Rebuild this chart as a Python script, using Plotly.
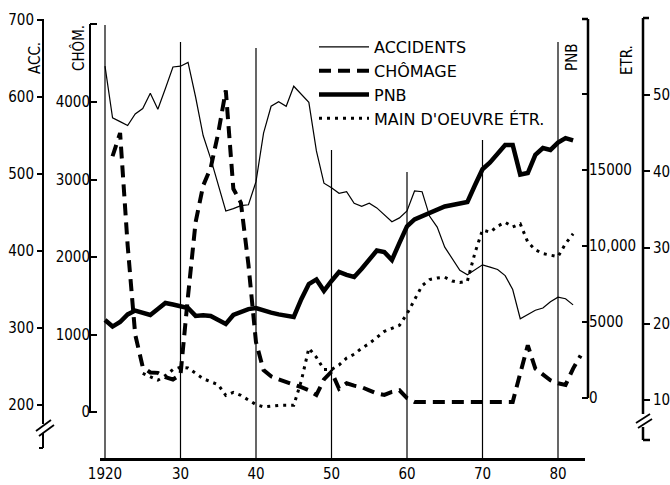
import plotly.graph_objects as go

# ---------------- data ----------------
acc_years = list(range(1920, 1983))
accidents = [640, 573, 568, 563, 578, 585, 605, 584, 611, 639,
             640, 645, 600, 550, 520, 485, 452, 455, 459, 460,
             490, 553, 588, 594, 588, 614, 604, 593, 530, 488,
             482, 475, 477, 462, 458, 462, 456, 447, 438, 443,
             452, 478, 477, 445, 431, 405, 390, 375, 369, 376,
             382, 379, 376, 368, 350, 312, 318, 323, 326, 334,
             340, 338, 330]

chom_years = list(range(1921, 1984))
chomage = [3300, 3600, 2150, 1000, 580, 510, 505, 450, 420, 480,
           1500, 2450, 2920, 3150, 3600, 4150, 2880, 2700, 1900, 900,
           540, 460, 420, 390, 350, 320, 280, 220, 420, 520,
           300, 370, 340, 320, 280, 240, 220, 260, 280, 180,
           130, 130, 130, 130, 130, 130, 130, 130, 130, 130,
           130, 130, 130, 130, 500, 860, 560, 480, 410, 370,
           350, 560, 730]

pnb_years = list(range(1920, 1983))
pnb = [5130, 4700, 5000, 5500, 5750, 5600, 5460, 5850, 6250, 6150,
       6050, 5920, 5400, 5450, 5400, 5150, 4870, 5460, 5650, 5850,
       5920, 5750, 5620, 5500, 5400, 5330, 6500, 7500, 7800, 7050,
       7700, 8290, 8100, 7960, 8500, 9100, 9700, 9600, 9080, 10200,
       11300, 11750, 11950, 12150, 12400, 12600, 12700, 12800, 12900, 14000,
       15050, 15500, 16100, 16650, 16650, 14700, 14800, 16000, 16450, 16320,
       16800, 17100, 16950]

etr_years = list(range(1925, 1983))
etranger = [13.5, 13.0, 12.6, 13.2, 14.0, 14.3, 14.2, 13.5, 12.8, 12.4,
            12.0, 10.6, 11.0, 10.6, 10.0, 9.4, 9.1, 9.2, 9.3, 9.3,
            9.3, 12.5, 16.8, 15.6, 14.0, 14.0, 14.6, 15.5, 16.0, 16.8,
            17.4, 18.2, 19.0, 19.4, 19.8, 21.3, 23.2, 25.0, 25.8, 26.0,
            26.1, 25.6, 25.4, 25.6, 29.3, 32.3, 32.0, 32.8, 33.3, 32.7,
            33.1, 30.7, 29.7, 29.2, 29.0, 28.8, 30.5, 31.8]

decades = [1920, 1930, 1940, 1950, 1960, 1970, 1980]
decade_labels = ["1920", "30", "40", "50", "60", "70", "80"]

acc_ticks = [200, 300, 400, 500, 600, 700]
chom_ticks = [0, 1000, 2000, 3000, 4000]
pnb_ticks = [0, 5000, 10000, 15000, 20000]
pnb_labels = ["0", "5000", "10,000", "15000", ""]
etr_ticks = [10, 20, 30, 40, 50]

# ---------------- layout helpers (pixel geometry) ----------------
W, H = 670, 485
TOP, BOT = 15, 458          # plot area in px
LEFT, RIGHT = 100, 585


def xp(px):
    return px / W


def yp(py):
    return 1 - py / H


def rng(va, pa, vb, pb):
    s = (pb - pa) / (vb - va)
    return [va + (BOT - pa) / s, va + (TOP - pa) / s]


x_range = [1920 + (LEFT - 105) / 7.55, 1920 + (RIGHT - 105) / 7.55]
ydom = [yp(BOT), yp(TOP)]

TICKFONT = dict(family="DejaVu Sans Condensed, DejaVu Sans, sans-serif", size=15, color="black")
INK = "black"

fig = go.Figure()
fig.add_trace(go.Scatter(x=acc_years, y=accidents, name="ACCIDENTS", mode="lines",
                         line=dict(color=INK, width=1.2), yaxis="y"))
fig.add_trace(go.Scatter(x=chom_years, y=chomage, name="CHÔMAGE", mode="lines",
                         line=dict(color=INK, width=4, dash="12px,7px"), yaxis="y2"))
fig.add_trace(go.Scatter(x=pnb_years, y=pnb, name="PNB", mode="lines",
                         line=dict(color=INK, width=4.5), yaxis="y3"))
fig.add_trace(go.Scatter(x=etr_years, y=etranger, name="MAIN D'OEUVRE ÉTR.", mode="lines",
                         line=dict(color=INK, width=3, dash="3px,5px"), yaxis="y4"))

common_y = dict(showgrid=False, zeroline=False, showline=False, automargin=False,
                tickfont=TICKFONT, ticklen=6, tickwidth=1.5, tickcolor=INK,
                anchor="free", tickmode="array", ticklabeloverflow="allow")

shapes = []
# decade rules
rule_tops = [25, 42, 48, 150, 172, 140, 42]
for d, t in zip(decades, rule_tops):
    shapes.append(dict(type="line", xref="x", yref="paper", x0=d, x1=d,
                       y0=yp(BOT), y1=yp(t), line=dict(color=INK, width=1.2)))


def seg(x0, y0, x1, y1, w=2):
    shapes.append(dict(type="line", xref="paper", yref="paper",
                       x0=xp(x0), y0=yp(y0), x1=xp(x1), y1=yp(y1),
                       line=dict(color=INK, width=w)))


# ACC axis line with break
seg(43, 19, 43, 424)
seg(36, 431, 51, 420, 1.8)
seg(39, 436, 54, 425, 1.8)
seg(43, 433, 43, 448)
seg(43, 448, 39, 448)
# CHÔM axis
seg(90, 24, 90, 413)
seg(90, 24, 97, 24)
# PNB axis
seg(588, 19, 588, 398, 2.5)
seg(588, 19, 582, 19, 2.5)
# ETR axis with break
seg(643, 18, 643, 414, 2.5)
seg(643, 18, 649, 18, 2.5)
seg(636, 423, 650, 414, 1.8)
seg(638, 428, 652, 419, 1.8)
seg(643, 427, 643, 440, 2.5)
seg(643, 440, 650, 440, 2.5)

TITLEFONT = dict(family="DejaVu Sans Condensed, DejaVu Sans, sans-serif", size=15, color="black")
annotations = [
    dict(text="ACC.", x=xp(35), y=yp(58), textangle=-90),
    dict(text="CHÔM.", x=xp(79), y=yp(48), textangle=-90),
    dict(text="PNB", x=xp(572), y=yp(57), textangle=-90),
    dict(text="ETR.", x=xp(627), y=yp(60), textangle=-90),
]
for a in annotations:
    a.update(xref="paper", yref="paper", showarrow=False, font=TITLEFONT,
             xanchor="center", yanchor="middle")

fig.update_layout(
    width=W, height=H,
    margin=dict(l=0, r=0, t=0, b=0, autoexpand=False),
    paper_bgcolor="white", plot_bgcolor="white",
    showlegend=True,
    legend=dict(x=xp(314), y=yp(30), xanchor="left", yanchor="top",
                bgcolor="rgba(0,0,0,0)", itemwidth=50,
                font=dict(family="DejaVu Sans, sans-serif", size=16, color="black"),
                tracegroupgap=0),
    xaxis=dict(domain=[xp(LEFT), xp(RIGHT)], range=x_range, anchor="y",
               showgrid=False, zeroline=False, showline=True, linecolor=INK, linewidth=2.5,
               ticks="", tickmode="array", tickvals=decades, ticktext=decade_labels,
               tickfont=TICKFONT, automargin=False, ticklabeloverflow="allow"),
    yaxis=dict(domain=ydom, range=rng(700, 20, 200, 405), side="left", position=xp(43),
               ticks="outside", tickvals=acc_ticks, **common_y),
    yaxis2=dict(overlaying="y", range=rng(4000, 102, 0, 412), side="left", position=xp(90),
                ticks="inside", tickvals=chom_ticks, **common_y),
    yaxis3=dict(overlaying="y", range=rng(20000, 94, 0, 398), side="right", position=xp(588),
                ticks="inside", tickvals=pnb_ticks, ticktext=pnb_labels, **common_y),
    yaxis4=dict(overlaying="y", range=rng(50, 95, 10, 400), side="right", position=xp(643),
                ticks="outside", tickvals=etr_ticks, **common_y),
    shapes=shapes,
    annotations=annotations,
)

fig.write_html("out.html", config={"displayModeBar": False},
               post_script="document.body.style.margin='0';")
